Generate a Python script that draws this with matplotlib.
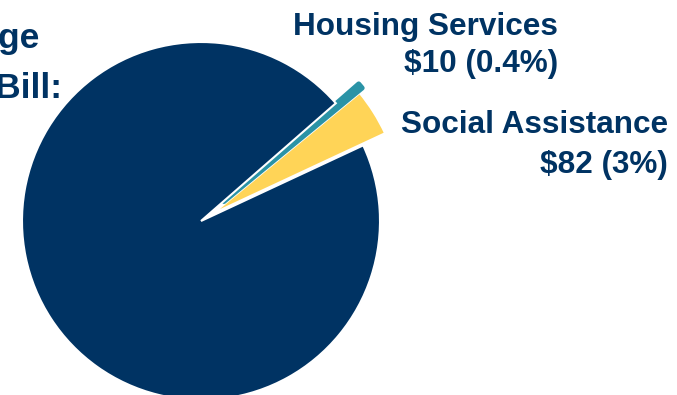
import matplotlib.pyplot as plt

# slices (counter-clockwise from the yellow one)
labels = ['Social Assistance', 'Housing Services', 'Other']
values = [82, 10, 1960]
colors = ['#FFD457', '#2A93A6', '#003363']
explode = [14, 30, 0]
label_amounts = ['$82 (3%)', '$10 (0.4%)']
title_lines = ['Share of', 'Average', 'Tax Bill:']

navy = '#003363'
plt.rcParams['font.family'] = ['Liberation Sans', 'DejaVu Sans']

fig = plt.figure(figsize=(6.77, 3.95), dpi=100)
ax = fig.add_axes([0, 0, 1, 1])

wedges, _ = ax.pie(values, colors=colors, explode=explode, startangle=25.0,
                   center=(201, 174), radius=179, counterclock=True,
                   wedgeprops=dict(edgecolor='white', linewidth=1.5))
wedges[0].set_radius(190)
wedges[1].set_edgecolor(colors[1])
wedges[1].set_linewidth(3.5)
wedges[1].set_joinstyle('round')

ax.set_xlim(0, 677)
ax.set_ylim(0, 395)
ax.set_aspect('equal')
ax.axis('off')

# slice labels
ax.text(558, 360, labels[1], ha='right', va='baseline', fontsize=22.7,
        fontweight='bold', color=navy)
ax.text(558, 323, label_amounts[1], ha='right', va='baseline', fontsize=22.7,
        fontweight='bold', color=navy)
ax.text(668, 262, labels[0], ha='right', va='baseline', fontsize=22.7,
        fontweight='bold', color=navy)
ax.text(668, 222, label_amounts[0], ha='right', va='baseline', fontsize=22.7,
        fontweight='bold', color=navy)

# title at top left (cut off by the frame)
ax.text(48, 397, title_lines[0], ha='right', va='baseline', fontsize=25.5,
        fontweight='bold', color=navy)
ax.text(40, 347, title_lines[1], ha='right', va='baseline', fontsize=25.5,
        fontweight='bold', color=navy)
ax.text(62, 297, title_lines[2], ha='right', va='baseline', fontsize=25.5,
        fontweight='bold', color=navy)

fig.savefig('out.png', dpi=100)
